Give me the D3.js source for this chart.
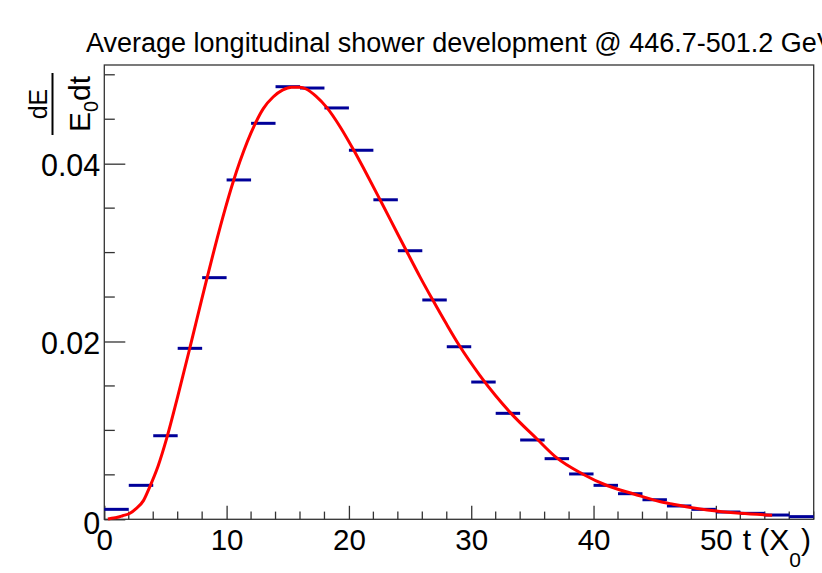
<!DOCTYPE html>
<html>
<head>
<meta charset="utf-8">
<script src="https://cdn.jsdelivr.net/npm/d3@7"></script>
<style>
	html, body { margin: 0; padding: 0; background: #fff; }
	svg { display: block; font-family: "Liberation Sans", Arial, Helvetica, sans-serif; }
</style>
</head>
<body>
<script>

// histogram bins (lower edge, width 2 X0) and the mean dE/(E0 dt) in each bin
const binLow = [0, 2, 4, 6, 8, 10, 12, 14, 16, 18, 20, 22, 24, 26, 28,
	30, 32, 34, 36, 38, 40, 42, 44, 46, 48, 50, 52, 54, 56];
const binWidth = 2;
const dEdt = [0.00112, 0.00382, 0.0094, 0.01923, 0.02718, 0.03817, 0.04454, 0.04866, 0.04851, 0.04627,
	0.04151, 0.03594, 0.03021, 0.02467, 0.01941, 0.01544, 0.01192, 0.00892, 0.00682, 0.0051,
	0.00382, 0.00288, 0.0022, 0.0015, 0.00112, 0.00082, 0.00067, 0.00048, 0.0003];

// fitted profile
const fitT = [0.3, 0.5, 1.0, 1.5, 2.1, 2.6, 3.2, 3.7, 4.4, 5.1, 6.0, 7.0, 7.8, 8.3, 9.0, 9.9, 10.5, 11.1,
	12.3, 13.0, 13.8, 14.6, 15.3, 16.0, 16.5, 17.3, 18.2, 19.3, 20.4, 21.5, 22.6, 23.8, 24.7, 25.8,
	26.8, 28.0, 29.0, 30.7, 32.0, 33.2, 35.4, 37.0, 39.1, 41.1, 43.3, 45.4, 46.5, 49.3, 52.0, 54.6];
const fitV = [0.00003, 0.0001, 0.0002, 0.0004, 0.00068, 0.0012, 0.0021, 0.0036, 0.0060, 0.0091, 0.0138,
	0.0193, 0.0238, 0.0266, 0.0304, 0.0350, 0.0378, 0.0403, 0.0444, 0.0462, 0.0475, 0.0483, 0.0486,
	0.0486, 0.0484, 0.0476, 0.0463, 0.0441, 0.0415, 0.0387, 0.0358, 0.0326, 0.0302, 0.0273, 0.0248,
	0.0219, 0.0196, 0.0162, 0.0139, 0.0120, 0.0090, 0.0069, 0.0051, 0.0038, 0.00285, 0.0020, 0.0017,
	0.00105, 0.00067, 0.00045];

const xDomain = [0, 58];
const yDomain = [0, 0.0511];
const xMajor = [0, 10, 20, 30, 40, 50];
const yMajor = [0, 0.02, 0.04];

const W = 822, H = 573;
const frame = { left: 104.3, right: 813.7, top: 65, bottom: 519.3 };

let svg = d3.select('body').append('svg')
	.attr('width', W)
	.attr('height', H);

let x = d3.scaleLinear().domain(xDomain).range([frame.left, frame.right]),
	y = d3.scaleLinear().domain(yDomain).range([frame.bottom, frame.top]);

// frame box
svg.append('rect')
	.attr('x', frame.left)
	.attr('y', frame.top)
	.attr('width', frame.right - frame.left)
	.attr('height', frame.bottom - frame.top)
	.attr('fill', 'none')
	.attr('stroke', '#333')
	.attr('stroke-width', 1.3);

// x axis: ticks point up into the frame
let xMinorTicks = d3.range(xDomain[0], xDomain[1] + 0.01, 2).filter(v => xMajor.indexOf(v) < 0);
let xAxis = d3.axisBottom(x)
	.tickValues(xMajor)
	.tickSize(-13.5)
	.tickFormat(d3.format('d'));

let gx = svg.append('g')
	.attr('transform', 'translate(0,' + frame.bottom + ')')
	.call(xAxis);
gx.select('.domain').remove();
gx.selectAll('.tick line').attr('stroke', '#333').attr('stroke-width', 1.3);
gx.selectAll('.tick text')
	.attr('font-size', 29.5)
	.attr('fill', '#000')
	.attr('dy', 0)
	.attr('y', 31);
gx.selectAll('.minor')
	.data(xMinorTicks)
	.enter().append('line')
	.attr('x1', d => x(d)).attr('x2', d => x(d))
	.attr('y1', 0).attr('y2', -7.7)
	.attr('stroke', '#333').attr('stroke-width', 1.3);

// y axis: ticks point right into the frame
let yMinorTicks = d3.range(0.005, 0.0501, 0.005).filter(v => !yMajor.some(m => Math.abs(m - v) < 1e-6));
let yAxis = d3.axisLeft(y)
	.tickValues(yMajor)
	.tickSize(-21)
	.tickFormat(d => d === 0 ? '0' : d3.format('.2f')(d));

let gy = svg.append('g')
	.attr('transform', 'translate(' + frame.left + ',0)')
	.call(yAxis);
gy.select('.domain').remove();
gy.selectAll('.tick line').attr('stroke', '#333').attr('stroke-width', 1.3);
gy.selectAll('.tick text')
	.attr('font-size', 30.5)
	.attr('fill', '#000')
	.attr('x', -4)
	.attr('dy', d => d === 0 ? '0.45em' : '0.38em');
gy.selectAll('.minor')
	.data(yMinorTicks)
	.enter().append('line')
	.attr('x1', 0).attr('x2', 10.5)
	.attr('y1', d => y(d)).attr('y2', d => y(d))
	.attr('stroke', '#333').attr('stroke-width', 1.3);

// histogram bins as horizontal bars
svg.append('g')
	.selectAll('line')
	.data(binLow.map((lo, i) => ({ lo: lo, v: dEdt[i] })))
	.enter().append('line')
	.attr('x1', d => x(d.lo))
	.attr('x2', d => x(d.lo + binWidth))
	.attr('y1', d => y(d.v))
	.attr('y2', d => y(d.v))
	.attr('stroke', '#000099')
	.attr('stroke-width', 3);

// fit curve
let line = d3.line()
	.x(d => x(d[0]))
	.y(d => y(d[1]))
	.curve(d3.curveMonotoneX);

svg.append('path')
	.datum(fitT.map((t, i) => [t, fitV[i]]))
	.attr('d', line)
	.attr('fill', 'none')
	.attr('stroke', '#ff0000')
	.attr('stroke-width', 3)
	.attr('stroke-linejoin', 'round');

// title (runs off the right edge as in the original)
svg.append('text')
	.attr('x', 86)
	.attr('y', 52)
	.attr('font-size', 27)
	.attr('fill', '#000')
	.text('Average longitudinal shower development @ 446.7-501.2 GeV');

// x axis title: t (X0)
let xt = svg.append('text')
	.attr('x', 811)
	.attr('y', 550)
	.attr('text-anchor', 'end')
	.attr('font-size', 30)
	.attr('fill', '#000');
xt.append('tspan').text('t (X');
xt.append('tspan').attr('font-size', 21).attr('dy', 17).text('0');
xt.append('tspan').attr('dy', -17).text(')');

// y axis title: dE / (E0 dt), rotated
let yt = svg.append('g')
	.attr('transform', 'translate(0,104) rotate(-90)');
yt.append('text')
	.attr('x', 0)
	.attr('y', 47)
	.attr('text-anchor', 'middle')
	.attr('font-size', 25)
	.text('dE');
yt.append('line')
	.attr('x1', -31).attr('x2', 31)
	.attr('y1', 52.5).attr('y2', 52.5)
	.attr('stroke', '#000')
	.attr('stroke-width', 2);
let den = yt.append('text')
	.attr('x', 0)
	.attr('y', 90)
	.attr('text-anchor', 'middle')
	.attr('font-size', 30);
den.append('tspan').text('E');
den.append('tspan').attr('font-size', 20).attr('dy', 8).text('0');
den.append('tspan').attr('dy', -8).text('dt');

</script>
</body>
</html>
